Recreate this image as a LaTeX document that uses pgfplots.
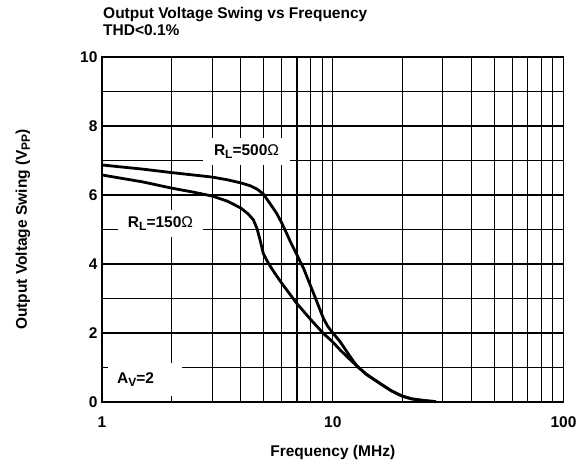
\documentclass[border=0pt]{standalone}
\usepackage{fontspec}
\setmainfont{Liberation Sans}
\usepackage{pgfplots}
\pgfplotsset{compat=1.18}
\newcommand{\fs}{\fontsize{15.5bp}{18bp}\selectfont\bfseries}
\newcommand{\sub}[1]{\raisebox{-0.35ex}{\fontsize{12bp}{13bp}\selectfont #1}}
\begin{document}
\begin{tikzpicture}
\useasboundingbox (-102bp,-65bp) rectangle (486bp,402bp);
\begin{axis}[
  scale only axis,
  width=461.5bp, height=345bp,
  at={(0,0)}, anchor=south west,
  xmode=log, xmin=1, xmax=100, ymin=0, ymax=10,
  xtick={1,10,100}, xticklabels={1,10,100},
  ytick={0,2,4,6,8,10},
  minor ytick={1,3,5,7,9},
  minor xtick={2,3,4,5,6,7,8,9,20,30,40,50,60,70,80,90},
  grid=both,
  major grid style={black, line width=1.05bp},
  minor grid style={black, line width=1.05bp},
  axis line style={black, line width=1.05bp},
  major tick length=0pt, minor tick length=0pt,
  tick label style={font=\fs},
  /pgf/number format/assume math mode=true,
  xticklabel style={yshift=-11bp},
  yticklabel style={xshift=-1bp},
  clip=false,
]
\addplot[black, line width=2.8bp] coordinates {
(1,6.87) (1.5,6.75) (2,6.65) (3,6.52) (3.5,6.44) (4,6.35) (4.38,6.27) (4.7,6.17) (5,6.03) (5.35,5.75) (5.71,5.47) (6.0,5.2) (6.31,4.89) (6.6,4.6) (7,4.26) (7.5,3.85) (8.1,3.29) (8.6,2.85) (9.1,2.43) (9.5,2.2) (9.9,2.04) (10.76,1.75) (11.8,1.35) (12.7,1.05) (14,0.8) (16,0.54) (18,0.32) (20,0.17) (22,0.09) (25,0.04) (28,0.01)
};
\addplot[black, line width=2.8bp] coordinates {
(1,6.58) (1.5,6.38) (2,6.2) (2.5,6.08) (3,5.97) (3.5,5.82) (4,5.62) (4.3,5.45) (4.53,5.28) (4.7,5.02) (4.84,4.7) (5.0,4.31) (5.26,4.02) (5.6,3.74) (6,3.45) (6.98,2.86) (8,2.4) (9.1,1.99) (10,1.74) (10.76,1.51) (11.8,1.25) (12.7,1.05) (14,0.8) (16,0.54) (18,0.32) (20,0.17) (22,0.09) (25,0.04) (28,0.01)
};
\node[fill=white, inner sep=0pt, minimum width=87bp, minimum height=27bp, font=\fs] at (axis cs:4.23,7.26) {R\sub{L}=500\textmd{Ω}};
\node[fill=white, inner sep=0pt, minimum width=85bp, minimum height=27bp, font=\fs] at (axis cs:1.793,5.17) {R\sub{L}=150\textmd{Ω}};
\node[fill=white, anchor=west, inner xsep=9bp, inner ysep=0pt, text width=56bp, align=left, minimum height=33bp, font=\fs] at (axis cs:1.062,0.652) {A\sub{V}=2};
\end{axis}
\node[anchor=base west, font=\fs, inner sep=0pt] at (1bp,383bp) {Output Voltage Swing vs Frequency};
\node[anchor=base west, font=\fs, inner sep=0pt] at (1bp,366bp) {THD<0.1\%};
\node[font=\fs] at (230.75bp,-50bp) {Frequency (MHz)};
\node[font=\fs, rotate=90] at (-79bp,172.5bp) {Output Voltage Swing (V\sub{PP})};
\end{tikzpicture}
\end{document}
